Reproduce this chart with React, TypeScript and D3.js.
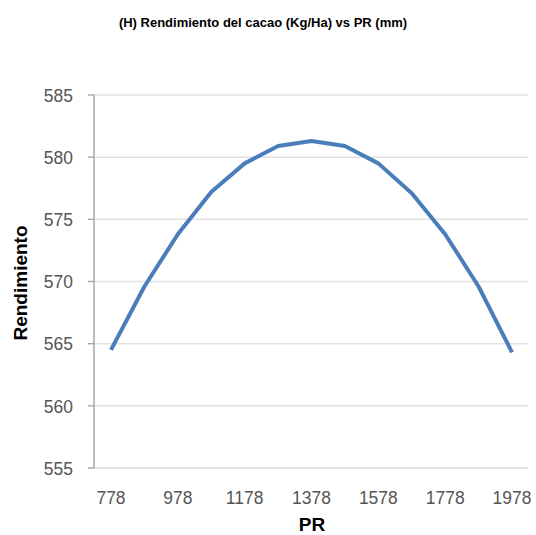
import React from "react";
import * as d3 from "d3";

const prValues = [778, 878, 978, 1078, 1178, 1278, 1378, 1478, 1578, 1678, 1778, 1878, 1978];
const rendimiento = [564.5, 569.6, 573.8, 577.2, 579.5, 580.9, 581.3, 580.9, 579.5, 577.1, 573.8, 569.6, 564.3];
const yTicks = [555, 560, 565, 570, 575, 580, 585];
const xTicks = [778, 978, 1178, 1378, 1578, 1778, 1978];
const title = "(H) Rendimiento del cacao (Kg/Ha) vs PR (mm)";
const xTitle = "PR";
const yTitle = "Rendimiento";

const W = 536;
const H = 535;

export default function App() {
  const plotLeft = 94;
  const plotRight = 528;
  const x = d3.scaleLinear().domain([778, 1978]).range([111, 512]);
  const y = d3.scaleLinear().domain([555, 585]).range([468, 95]);
  const line = d3
    .line<number>()
    .x((_, i) => x(prValues[i]))
    .y((d) => y(d));
  const font = "'Liberation Sans', Arial, sans-serif";
  return (
    <svg
      width={W}
      height={H}
      style={{ position: "absolute", left: 0, top: 0, background: "#fff" }}
      fontFamily={font}
    >
      <text x={263} y={27} textAnchor="middle" fontSize={13} fontWeight="bold" fill="#000">
        {title}
      </text>
      {yTicks.map((t) => (
        <g key={t}>
          <line x1={88} x2={plotRight} y1={y(t)} y2={y(t)} stroke="#e2e2e2" strokeWidth={t === 555 ? 2 : 1.5} />
          <line x1={88} x2={plotLeft} y1={y(t)} y2={y(t)} stroke="#a6a6a6" strokeWidth={1.2} />
          <text
            x={73}
            y={y(t)}
            dy="0.36em"
            textAnchor="end"
            fontSize={19}
            fill="#555"
            transform={`translate(${73} ${y(t)}) scale(0.92 1) translate(${-73} ${-y(t)})`}
          >
            {t}
          </text>
        </g>
      ))}
      <line x1={plotLeft} x2={plotLeft} y1={y(585)} y2={y(555)} stroke="#a6a6a6" strokeWidth={1.5} />
      {xTicks.map((t) => (
        <text
          key={t}
          x={x(t)}
          y={504}
          textAnchor="middle"
          fontSize={19}
          fill="#555"
          transform={`translate(${x(t)} 504) scale(0.92 1) translate(${-x(t)} -504)`}
        >
          {t}
        </text>
      ))}
      <path d={line(rendimiento) || ""} fill="none" stroke="#4a7ebb" strokeWidth={4} strokeLinejoin="round" />
      <text x={312} y={531} textAnchor="middle" fontSize={19} fontWeight="bold" fill="#000">
        {xTitle}
      </text>
      <text
        transform={`translate(27 283) rotate(-90)`}
        textAnchor="middle"
        fontSize={19}
        fontWeight="bold"
        fill="#000"
      >
        {yTitle}
      </text>
    </svg>
  );
}
